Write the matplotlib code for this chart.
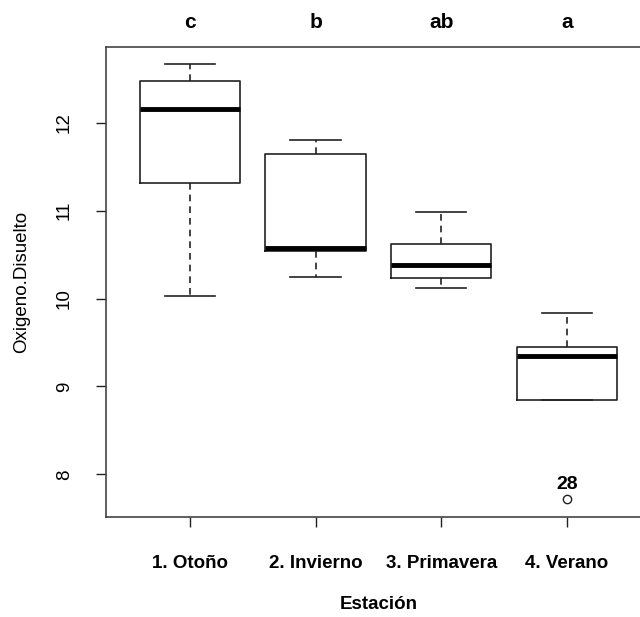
import matplotlib.pyplot as plt

plt.rcParams['font.family'] = ['Liberation Sans', 'DejaVu Sans']

# Datos
estaciones = ['1. Otoño', '2. Invierno', '3. Primavera', '4. Verano']
letras = ['c', 'b', 'ab', 'a']
bigote_inf = [10.03, 10.24, 10.12, 8.85]
q1 = [11.31, 10.54, 10.23, 8.85]
mediana = [12.16, 10.58, 10.38, 9.35]
q3 = [12.47, 11.64, 10.62, 9.45]
bigote_sup = [12.67, 11.80, 10.98, 9.84]
atipicos = [[], [], [], [7.72]]
etiqueta_atipico = '28'

stats = []
for i in range(len(estaciones)):
    stats.append({'whislo': bigote_inf[i], 'q1': q1[i], 'med': mediana[i],
                  'q3': q3[i], 'whishi': bigote_sup[i], 'fliers': atipicos[i]})

fig = plt.figure(figsize=(6.4, 6.17), dpi=100)
W, H = 640, 617
# el grafico original esta recortado por la derecha
ax = fig.add_axes([105.7/W, (H-516.7)/H, (651-105.7)/W, (516.7-46.7)/H])

col = '#222222'
ax.bxp(stats, positions=[1, 2, 3, 4], widths=0.8,
       boxprops=dict(color=col, linewidth=1.2),
       whiskerprops=dict(color=col, linewidth=1.2, linestyle=(0, (4, 3))),
       capprops=dict(color=col, linewidth=1.2),
       medianprops=dict(color='black', linewidth=3.5),
       flierprops=dict(marker='o', markerfacecolor='none', markeredgecolor=col,
                       markersize=6, markeredgewidth=1.0),
       capwidths=0.4)

ax.set_xlim(0.33, 4.67)
ax.set_ylim(7.518, 12.865)

ax.set_yticks([8, 9, 10, 11, 12])
ax.set_yticklabels(['8', '9', '10', '11', '12'], rotation=90, va='center', fontsize=13.5)
ax.set_xticks([1, 2, 3, 4])
ax.set_xticklabels(estaciones, fontsize=13.5, fontweight='bold')
ax.tick_params(axis='both', length=7.5, width=1, color=col, direction='out')
ax.tick_params(axis='x', pad=20)
ax.tick_params(axis='y', pad=16)
for s in ax.spines.values():
    s.set_color('#444444')
    s.set_linewidth(1.2)

ax.set_xlabel('Estación', fontsize=13.5, fontweight='bold')
ax.xaxis.set_label_coords(0.5, -(609 - 516.7) / 470)
ax.xaxis.label.set_va('baseline')
ax.set_ylabel('Oxigeno.Disuelto', fontsize=13.5)
ax.yaxis.set_label_coords((22 - 105.7) / 545.3, 0.5)
ax.yaxis.label.set_va('center')

for i, l in enumerate(letras):
    ax.text(i + 1, 1 + (46.7 - 28) / 470, l, ha='center', va='baseline', fontsize=15,
            fontweight='bold', clip_on=False, transform=ax.get_xaxis_transform())

ax.text(4, 7.83, etiqueta_atipico, ha='center', va='baseline',
        fontsize=14, fontweight='bold')

fig.savefig('out.png', dpi=100)
